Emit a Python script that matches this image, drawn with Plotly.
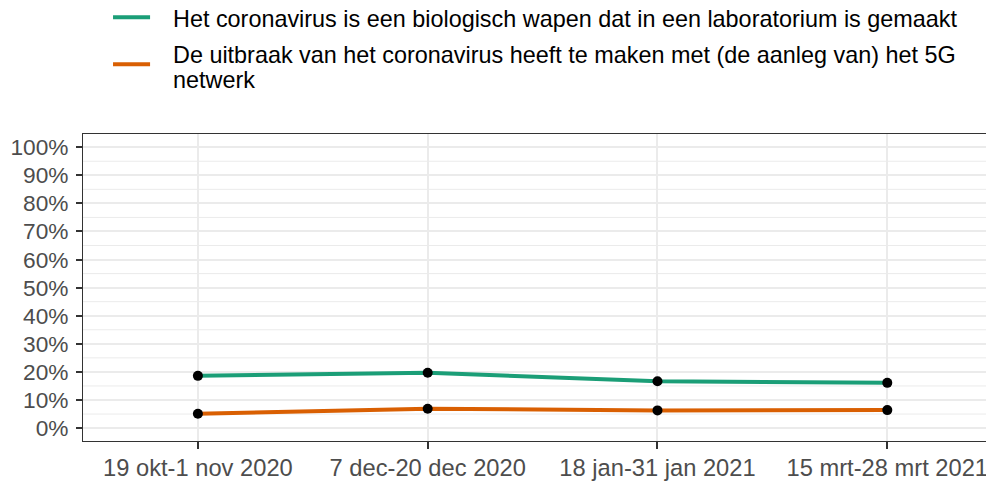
import plotly.graph_objects as go

categories = ["19 okt-1 nov 2020", "7 dec-20 dec 2020", "18 jan-31 jan 2021", "15 mrt-28 mrt 2021"]
series_names = [
    "Het coronavirus is een biologisch wapen dat in een laboratorium is gemaakt",
    "De uitbraak van het coronavirus heeft te maken met (de aanleg van) het 5G<br>netwerk",
]
bio_weapon = [18.6, 19.7, 16.7, 16.1]
five_g = [5.1, 6.9, 6.3, 6.4]
colors = ["#1B9E77", "#D95F02"]
y_ticks = list(range(0, 101, 10))
y_tick_labels = [f"{v}%" for v in y_ticks]

x_idx = list(range(len(categories)))

fig = go.Figure()
for name, vals, col in zip(series_names, [bio_weapon, five_g], colors):
    fig.add_trace(go.Scatter(x=x_idx, y=vals, mode="lines", name=name.replace("<br>", " "),
                             line=dict(color=col, width=4), showlegend=False))
for vals in [bio_weapon, five_g]:
    fig.add_trace(go.Scatter(x=x_idx, y=vals, mode="markers", showlegend=False,
                             marker=dict(color="black", size=10)))

# minor gridlines at 5%
for v in range(5, 100, 10):
    fig.add_hline(y=v, line=dict(color="#EBEBEB", width=1), layer="below")

# legend drawn above the panel (keys + text lines), positions in paper units
key_x0, key_x1, text_x = 0.033, 0.0737, 0.0967
key_y = [1.380, 1.227]
text_lines_y = [[1.3756], [1.2573, 1.1775]]
for name, col, ky, lys in zip(series_names, colors, key_y, text_lines_y):
    fig.add_shape(type="line", xref="paper", yref="paper", x0=key_x0, x1=key_x1,
                  y0=ky, y1=ky, line=dict(color=col, width=4))
    for line_text, ly in zip(name.split("<br>"), lys):
        fig.add_annotation(text=line_text, xref="paper", yref="paper", x=text_x, y=ly,
                           xanchor="left", yanchor="middle", showarrow=False,
                           font=dict(size=23.4, color="black"))

fig.update_layout(
    width=986, height=473,
    margin=dict(l=75, r=1, t=126, b=40, autoexpand=False),
    paper_bgcolor="white", plot_bgcolor="white",
    font=dict(family="Liberation Sans, Arial, sans-serif", size=20, color="black"),
    showlegend=False,
)

fig.update_xaxes(range=[-0.5, 3.46], tickmode="array", tickvals=x_idx, ticktext=categories,
                 automargin=False,
                 showgrid=True, gridcolor="#EBEBEB", gridwidth=2,
                 showline=True, linecolor="#333333", linewidth=1, mirror=True,
                 ticks="outside", ticklen=7, tickcolor="#333333", tickwidth=1.5,
                 ticklabelstandoff=-1,
                 tickfont=dict(size=23.7, color="#4D4D4D"), zeroline=False)
fig.update_yaxes(range=[-4.6, 104.7], tickmode="array", tickvals=y_ticks, ticktext=y_tick_labels,
                 automargin=False,
                 showgrid=True, gridcolor="#EBEBEB", gridwidth=2,
                 showline=True, linecolor="#333333", linewidth=1, mirror=True,
                 ticks="outside", ticklen=6, tickcolor="#333333", tickwidth=1.5,
                 ticklabelstandoff=3,
                 tickfont=dict(size=22.7, color="#4D4D4D"), zeroline=False)

fig.write_html("out.html")
